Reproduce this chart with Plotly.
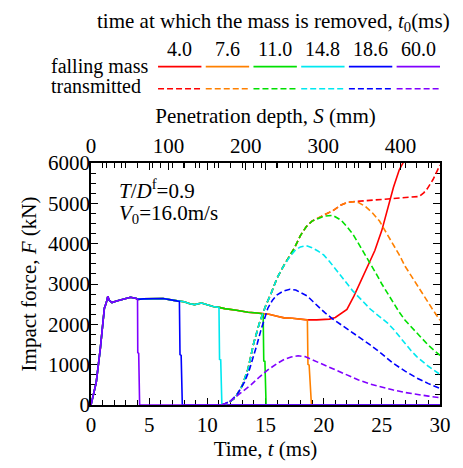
import plotly.graph_objects as go

# ---------------- data ----------------
labels = ["4.0", "7.6", "11.0", "14.8", "18.6", "60.0"]
colors = ["#ff0000", "#ff8000", "#00e000", "#00e8f0", "#0000ff", "#8000ff"]

# falling-mass force (solid) – common initial part
common_t = [0, 0.2, 0.45, 0.8, 1.15, 1.3, 1.45, 1.55, 1.8, 2.2, 2.8, 3.4, 3.9]
common_F = [0, 250, 560, 1400, 2400, 2520, 2700, 2600, 2540, 2580, 2630, 2670, 2640]

purple_t = [4.0, 4.02, 4.1, 4.18, 30]
purple_F = [2620, 1300, 1280, 0, 0]
blue_t = [4.5, 5.5, 6.2, 7.0, 7.6, 7.65, 7.75, 7.85, 30]
blue_F = [2630, 2640, 2640, 2600, 2570, 1250, 1230, 0, 0]
cyan_t = [8.0, 8.5, 8.9, 9.5, 10.0, 10.5, 11.0, 11.05, 11.15, 11.25, 30]
cyan_F = [2560, 2510, 2490, 2530, 2490, 2440, 2420, 1130, 1120, 0, 0]
green_t = [11.5, 12.5, 13.5, 14.3, 14.8, 14.85, 14.95, 15.05, 30]
green_F = [2390, 2350, 2300, 2280, 2260, 1090, 1080, 0, 0]
orange_t = [15.3, 16.0, 16.6, 17.3, 18.0, 18.6, 18.65, 18.75, 18.95, 30]
orange_F = [2250, 2200, 2160, 2150, 2120, 2110, 1010, 990, 0, 0]
red_t = [19.4, 20.5, 21.0, 21.5, 22.0, 22.6, 23.2, 23.8, 24.4, 25.0, 25.5, 26.0, 26.5, 27.0, 27.5]
red_F = [2110, 2130, 2170, 2260, 2370, 2700, 3080, 3450, 3830, 4330, 4850, 5400, 5830, 6100, 6450]

# transmitted force (dashed)
big_t = [11.2, 11.8, 12.4, 13.0, 13.5, 14.0, 14.5, 15.0, 15.5, 16.0]
big_F = [0, 50, 180, 480, 900, 1550, 2050, 2450, 2780, 3150]
green_d_t = [16.5, 17.0, 17.5, 18.0, 18.5, 19.0, 19.5, 20.0, 20.8, 21.5, 22.0, 22.5, 23.0, 23.5,
             24.0, 24.5, 25.0, 25.5, 26.0, 26.5, 27.0, 27.5, 28.0, 28.5, 29.0, 29.5, 30.0]
green_d_F = [3420, 3650, 3900, 4200, 4420, 4560, 4630, 4680, 4700, 4580, 4420, 4240, 4000, 3760,
             3520, 3260, 3000, 2760, 2520, 2300, 2100, 1940, 1790, 1630, 1480, 1350, 1230]
orange_d_t = [20.0, 20.8, 21.5, 22.0, 22.5, 23.0, 23.6, 24.2, 24.8, 25.4, 25.9, 26.5, 27.0, 27.6,
              28.2, 28.8, 29.3, 30.0]
orange_d_F = [4720, 4820, 4960, 5020, 5040, 5020, 4920, 4760, 4560, 4270, 4000, 3720, 3440, 3160,
              2880, 2620, 2400, 2100]
red_d_t = [23.0, 24.0, 25.0, 26.0, 27.0, 27.6, 28.2, 28.6, 28.9, 29.4, 29.7, 30.0]
red_d_F = [5050, 5070, 5090, 5110, 5130, 5140, 5170, 5260, 5360, 5590, 5760, 5950]
cyan_d_t = [16.5, 17.0, 17.5, 18.0, 18.5, 19.0, 19.5, 20.0, 20.5, 21.0, 21.5, 22.0, 22.5, 23.0,
            23.5, 24.0, 24.5, 25.0, 25.5, 26.0, 26.5, 27.0, 27.5, 28.0, 28.5, 29.0, 29.5, 30.0]
cyan_d_F = [3420, 3640, 3820, 3920, 3950, 3900, 3820, 3720, 3560, 3380, 3180, 3000, 2830, 2680,
            2520, 2380, 2260, 2150, 2030, 1880, 1700, 1520, 1350, 1200, 1070, 960, 860, 760]
blue_d_t = [11.3, 12.0, 12.6, 13.2, 13.6, 14.0, 14.3, 14.6, 14.9, 15.2, 15.6, 16.0, 16.5, 17.1,
            17.6, 18.1, 18.6, 19.1, 19.6, 20.1, 20.7, 21.5, 22.3, 23.1, 24.0, 25.0, 25.9, 27.0,
            28.0, 29.0, 30.0]
blue_d_F = [0, 100, 280, 570, 860, 1210, 1530, 1850, 2150, 2400, 2600, 2730, 2820, 2870,
            2850, 2780, 2700, 2560, 2420, 2290, 2150, 1990, 1830, 1690, 1490, 1270, 1050, 840,
            670, 530, 410]
purple_d_t = [11.2, 11.8, 12.3, 13.0, 13.75, 14.5, 15.2, 16.0, 16.6, 17.2, 17.8, 18.4, 19.1, 19.6,
              20.3, 21.0, 22.0, 23.0, 24.0, 25.0, 26.0, 27.0, 28.0, 29.0, 30.0]
purple_d_F = [0, 60, 170, 330, 500, 700, 870, 1030, 1130, 1190, 1220, 1200, 1110, 1040,
              960, 870, 740, 620, 520, 440, 370, 310, 260, 220, 180]

depth_range = [0, 451]

# ---------------- build series ----------------
solid_t = [
    common_t + purple_t[:1] + blue_t[:5] + cyan_t[:7] + green_t[:5] + orange_t[:6] + red_t,
    common_t + purple_t[:1] + blue_t[:5] + cyan_t[:7] + green_t[:5] + orange_t,
    common_t + purple_t[:1] + blue_t[:5] + cyan_t[:7] + green_t,
    common_t + purple_t[:1] + blue_t[:5] + cyan_t,
    common_t + purple_t[:1] + blue_t,
    common_t + purple_t,
]
solid_F = [
    common_F + purple_F[:1] + blue_F[:5] + cyan_F[:7] + green_F[:5] + orange_F[:6] + red_F,
    common_F + purple_F[:1] + blue_F[:5] + cyan_F[:7] + green_F[:5] + orange_F,
    common_F + purple_F[:1] + blue_F[:5] + cyan_F[:7] + green_F,
    common_F + purple_F[:1] + blue_F[:5] + cyan_F,
    common_F + purple_F[:1] + blue_F,
    common_F + purple_F,
]

def upto(ts, Fs, tmax):
    return [t for t in ts if t <= tmax], [f for t, f in zip(ts, Fs) if t <= tmax]

bt19, bF19 = upto(big_t + green_d_t, big_F + green_d_F, 19.5)
bt22, bF22 = upto(big_t + green_d_t[:7] + orange_d_t, big_F + green_d_F[:7] + orange_d_F, 22.5)
dashed_t = [
    bt22 + red_d_t,
    bt19 + orange_d_t,
    big_t + green_d_t,
    big_t + cyan_d_t,
    blue_d_t,
    purple_d_t,
]
dashed_F = [
    bF22 + red_d_F,
    bF19 + orange_d_F,
    big_F + green_d_F,
    big_F + cyan_d_F,
    blue_d_F,
    purple_d_F,
]

FONT = "Liberation Serif, Times New Roman, serif"
fig = go.Figure()
for i in range(6):
    fig.add_trace(go.Scatter(x=solid_t[i], y=solid_F[i], mode="lines",
                             line=dict(color=colors[i], width=1.6), showlegend=False, hoverinfo="skip"))
for i in range(6):
    fig.add_trace(go.Scatter(x=dashed_t[i], y=dashed_F[i], mode="lines",
                             line=dict(color=colors[i], width=1.6, dash="6px,3px"),
                             showlegend=False, hoverinfo="skip"))
# invisible trace to activate top axis
fig.add_trace(go.Scatter(x=[depth_range[0]], y=[0], xaxis="x2", mode="lines",
                         showlegend=False, hoverinfo="skip"))

L, R, T, B = 91, 445, 163, 414
W, H = 463, 468
def px(x):
    return (x - L) / (R - L)
def py(y):
    return (B - y) / (B - T)

axis_common = dict(showline=True, linecolor="black", linewidth=1.5, ticks="inside",
                   tickcolor="black", tickwidth=1.2, ticklen=7, showgrid=False, zeroline=False,
                   tickfont=dict(family=FONT, size=21, color="black"))
fig.update_layout(
    width=W, height=H, margin=dict(l=L, r=W - R, t=T, b=H - B),
    plot_bgcolor="white", paper_bgcolor="white",
    font=dict(family=FONT, size=20, color="black"),
    xaxis=dict(range=[0, 30], dtick=5, mirror="ticks", layer="below traces",
               minor=dict(dtick=1, ticks="inside", ticklen=5, tickcolor="black", tickwidth=1),
               title=dict(text="Time, <i>t</i> (ms)", font=dict(family=FONT, size=21), standoff=4),
               **axis_common),
    xaxis2=dict(range=depth_range, overlaying="x", side="top", dtick=100, anchor="y",
                minor=dict(dtick=20, ticks="inside", ticklen=5, tickcolor="black", tickwidth=1),
                title=dict(text="Penetration depth, <i>S</i> (mm)", font=dict(family=FONT, size=21), standoff=4),
                **axis_common),
    yaxis=dict(range=[0, 6000], dtick=1000, mirror="ticks", layer="below traces",
               ticklabelstandoff=-5,
               minor=dict(dtick=250, ticks="inside", ticklen=5, tickcolor="black", tickwidth=1),
               title=dict(text="Impact force, <i>F</i> (kN)", font=dict(family=FONT, size=21), standoff=6),
               **axis_common),
)

def text(t, x, y, xa="center", size=20):
    return dict(text=t, x=px(x), y=py(y), xref="paper", yref="paper", xanchor=xa, yanchor="middle",
                showarrow=False, font=dict(family=FONT, size=size, color="black"))

ann = [
    text("time at which the mass is removed, <i>t</i><sub>0</sub>(ms)", 276, 17, size=21),
    text("falling mass", 48, 63, xa="left"),
    text("transmitted", 48, 83, xa="left"),
    text("<i>T</i>/<i>D</i><sup>f</sup>=0.9", 117, 190, xa="left", size=21),
    text("<i>V</i><sub>0</sub>=16.0m/s", 117, 216, xa="left", size=21),
]

shapes = []
x0 = 159
step = 48.4
for i in range(6):
    a = x0 + i * step
    b = a + 44
    ann.append(text(labels[i], (a + b) / 2, 45))
    shapes.append(dict(type="line", xref="paper", yref="paper", x0=px(a), x1=px(b), y0=py(63), y1=py(63),
                       line=dict(color=colors[i], width=1.6)))
    shapes.append(dict(type="line", xref="paper", yref="paper", x0=px(a), x1=px(b), y0=py(86), y1=py(86),
                       line=dict(color=colors[i], width=1.6, dash="6px,3px")))
fig.update_layout(annotations=ann, shapes=shapes)

fig.write_html("out.html")
